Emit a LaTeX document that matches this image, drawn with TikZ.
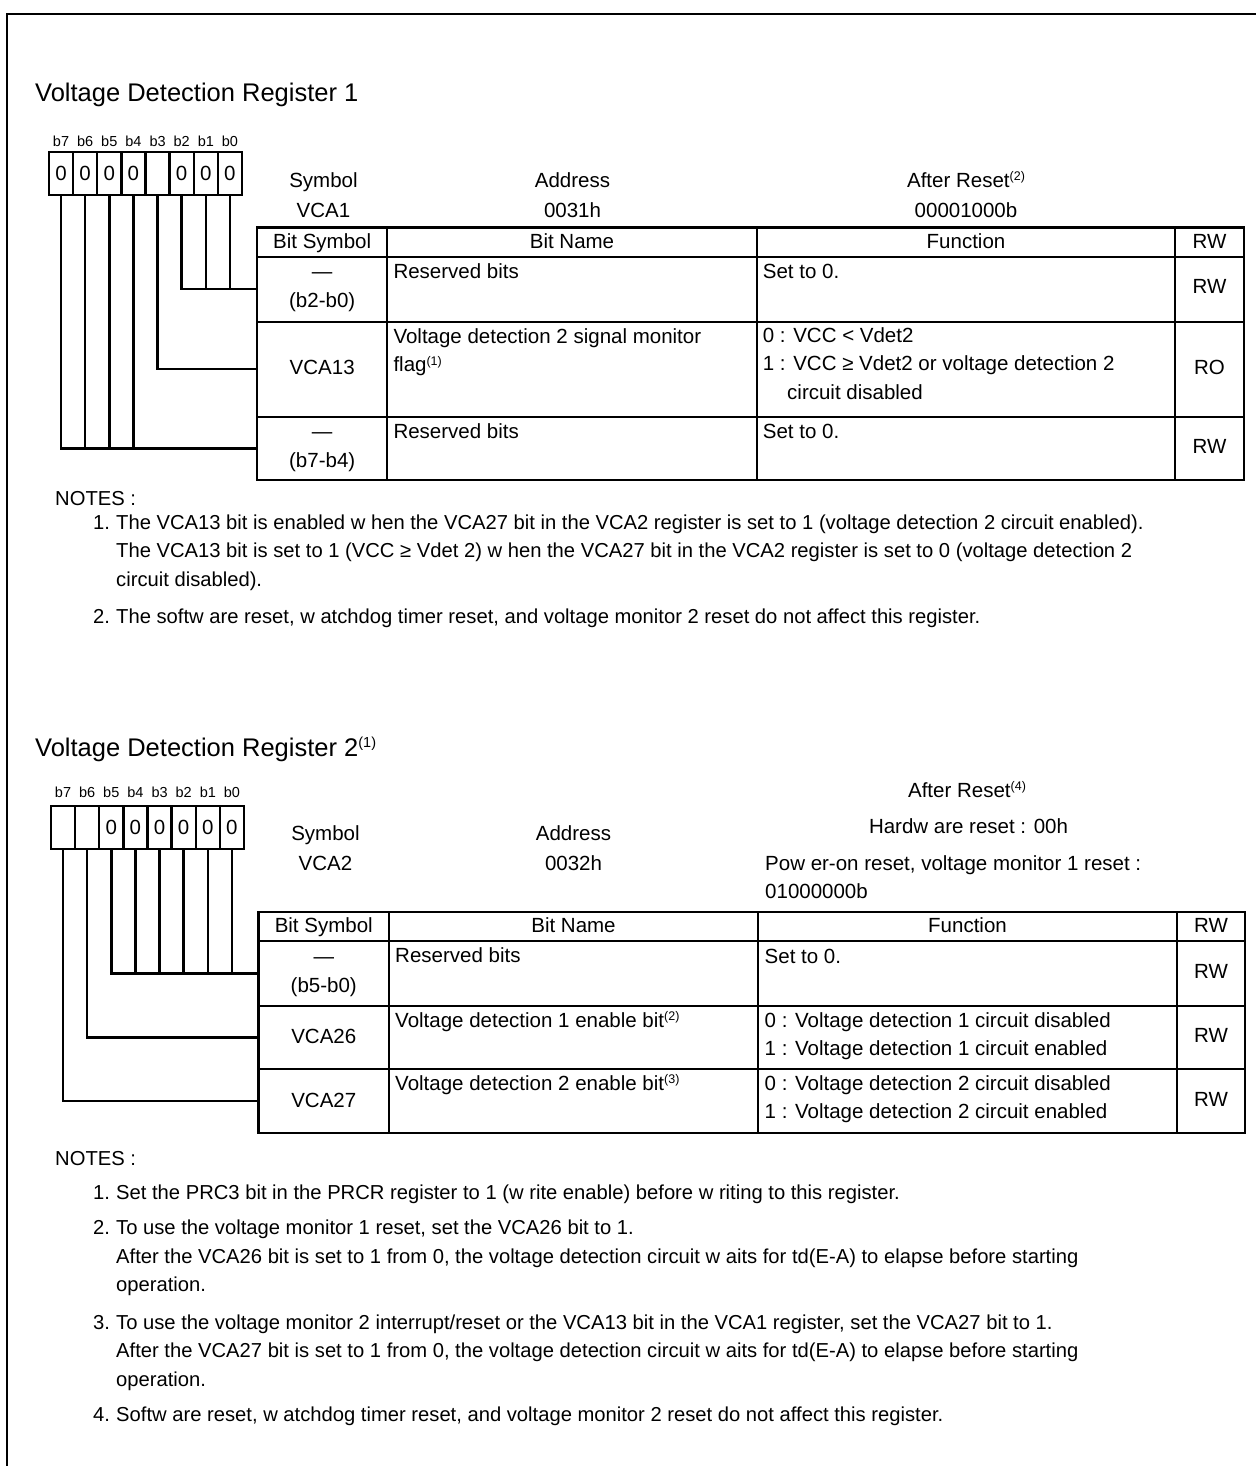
\documentclass[tikz,border=0pt]{standalone}
\usepackage{fontspec}
\setmainfont{Liberation Sans}
\newcommand\ftxt{\fontsize{20.5pt}{28.5pt}\selectfont}
\newcommand\fnote{\fontsize{20.2pt}{28.5pt}\selectfont}
\newcommand\fttl{\fontsize{25.5pt}{28pt}\selectfont}
\newcommand\fbit{\fontsize{14.5pt}{16pt}\selectfont}
\newcommand\fsup{\fontsize{12.5pt}{13pt}\selectfont}
\newcommand\supr[1]{\raisebox{6.5pt}{\fsup(#1)}}
\newcommand\suprt[1]{\raisebox{8.5pt}{\fontsize{14.5pt}{14.5pt}\selectfont(#1)}}
\newcommand\cellbox[5]{%
  \pgfmathsetmacro\mycw{#4-#2}\pgfmathsetmacro\mych{#5-#3}%
  \node[cellst, minimum width=\mycw pt, minimum height=\mych pt, anchor=north west] (#1) at (#2,#3) {};}
\tikzset{
  cellst/.style={draw, rectangle, line width=2.4pt, inner sep=0pt, outer sep=0pt},
  bitcell/.style={draw, rectangle, line width=2.4pt, inner sep=0pt, outer sep=0pt,
    minimum width=24.125pt, minimum height=43pt, font=\ftxt},
  conn/.style={line width=2.4pt},
  txt/.style={inner sep=0pt, font=\ftxt, anchor=base},
  ltxt/.style={inner sep=0pt, font=\ftxt, anchor=base west},
  ntxt/.style={inner sep=0pt, font=\fnote, anchor=base west},
  ttl/.style={inner sep=0pt, font=\fttl, anchor=base west},
  lbl/.style={inner sep=0pt, font=\fbit, anchor=base},
}
\begin{document}
\begin{tikzpicture}[x=1pt,y=-1pt]
\useasboundingbox (0,0) rectangle (1255,1466);
% frame
\draw[line width=2.8pt] (1260,14) -- (7,14) -- (7,1470);

% ================= Register 1 =================
\node[ttl] (r1title) at (35,101.5) {Voltage Detection Register 1};
\foreach \i in {0,...,7} {
  \node[lbl] (r1l\i) at ({49+24.125*(7-\i+0.5)},147) {b\i};
}
\foreach \i/\v in {7/0,6/0,5/0,4/0,3/{},2/0,1/0,0/0} {
  \node[bitcell] (r1b\i) at ({49+24.125*(7-\i+0.5)},173.5) {\v};
}
\node[txt] (r1sym) at (323.5,187) {Symbol};
\node[txt] (r1symv) at (323.5,217.5) {VCA1};
\node[txt] (r1adr) at (572.5,187) {Address};
\node[txt] (r1adrv) at (572.5,217.5) {0031h};
\node[txt] (r1rst) at (966,187) {After Reset\supr{2}};
\node[txt] (r1rstv) at (966,217.5) {00001000b};

% table 1 cells
\cellbox{t1h1}{257}{227.3}{387.2}{256.7}
\cellbox{t1h2}{387.2}{227.3}{756.7}{256.7}
\cellbox{t1h3}{756.7}{227.3}{1175}{256.7}
\cellbox{t1h4}{1175}{227.3}{1244}{256.7}
\cellbox{t1a1}{257}{256.7}{387.2}{321.7}
\cellbox{t1a2}{387.2}{256.7}{756.7}{321.7}
\cellbox{t1a3}{756.7}{256.7}{1175}{321.7}
\cellbox{t1a4}{1175}{256.7}{1244}{321.7}
\cellbox{t1b1}{257}{321.7}{387.2}{416.7}
\cellbox{t1b2}{387.2}{321.7}{756.7}{416.7}
\cellbox{t1b3}{756.7}{321.7}{1175}{416.7}
\cellbox{t1b4}{1175}{321.7}{1244}{416.7}
\cellbox{t1c1}{257}{416.7}{387.2}{480}
\cellbox{t1c2}{387.2}{416.7}{756.7}{480}
\cellbox{t1c3}{756.7}{416.7}{1175}{480}
\cellbox{t1c4}{1175}{416.7}{1244}{480}

\node[txt] (t1h1t) at (322.2,248) {Bit Symbol};
\node[txt] (t1h2t) at (572,248) {Bit Name};
\node[txt] (t1h3t) at (966,248) {Function};
\node[txt] (t1h4t) at (1209.5,248) {RW};

\node[txt] (t1a1t) at (322.2,278.5) {—};
\node[txt] (t1a1u) at (322.2,307) {(b2-b0)};
\node[ltxt] (t1a2t) at (393.3,278) {Reserved bits};
\node[ltxt] (t1a3t) at (762.7,278) {Set to 0.};
\node[txt] (t1a4t) at (1209.5,293) {RW};

\node[txt] (t1b1t) at (322.2,374) {VCA13};
\node[ltxt] (t1b2t) at (393.3,343) {Voltage detection 2 signal monitor};
\node[ltxt] (t1b2u) at (393.3,371.5) {flag\supr{1}};
\node[ltxt] (t1b3t) at (762.7,342) {0 : VCC < Vdet2};
\node[ltxt] (t1b3u) at (762.7,370.5) {1 : VCC ≥ Vdet2 or voltage detection 2};
\node[ltxt] (t1b3v) at (787,399) {circuit disabled};
\node[txt] (t1b4t) at (1209.5,374) {RO};

\node[txt] (t1c1t) at (322.2,438.5) {—};
\node[txt] (t1c1u) at (322.2,467) {(b7-b4)};
\node[ltxt] (t1c2t) at (393.3,438) {Reserved bits};
\node[ltxt] (t1c3t) at (762.7,438) {Set to 0.};
\node[txt] (t1c4t) at (1209.5,453) {RW};

% connectors register 1
\draw[conn] (r1b2.south) |- (t1a1.west);
\draw[conn] (r1b1.south) -- (r1b1.south |- t1a1.west);
\draw[conn] (r1b0.south) -- (r1b0.south |- t1a1.west);
\draw[conn] (r1b3.south) |- (t1b1.west);
\draw[conn] (r1b7.south) |- (t1c1.west);
\draw[conn] (r1b6.south) -- (r1b6.south |- t1c1.west);
\draw[conn] (r1b5.south) -- (r1b5.south |- t1c1.west);
\draw[conn] (r1b4.south) -- (r1b4.south |- t1c1.west);

% notes 1
\node[ntxt] (n1h) at (55,505) {NOTES :};
\node[ntxt] (n1a) at (93,529) {1.};
\node[ntxt] (n1at) at (116,529) {The VCA13 bit is enabled w hen the VCA27 bit in the VCA2 register is set to 1 (voltage detection 2 circuit enabled).};
\node[ntxt] (n1au) at (116,557.5) {The VCA13 bit is set to 1 (VCC ≥ Vdet 2) w hen the VCA27 bit in the VCA2 register is set to 0 (voltage detection 2};
\node[ntxt] (n1av) at (116,586) {circuit disabled).};
\node[ntxt] (n1b) at (93,623) {2.};
\node[ntxt] (n1bt) at (116,623) {The softw are reset, w atchdog timer reset, and voltage monitor 2 reset do not affect this register.};

% ================= Register 2 =================
\node[ttl] (r2title) at (35,756) {Voltage Detection Register 2\suprt{1}};
\foreach \i in {0,...,7} {
  \node[lbl] (r2l\i) at ({51+24.125*(7-\i+0.5)},797) {b\i};
}
\foreach \i/\v in {7/{},6/{},5/0,4/0,3/0,2/0,1/0,0/0} {
  \node[bitcell] (r2b\i) at ({51+24.125*(7-\i+0.5)},827.5) {\v};
}
\node[txt] (r2sym) at (325.5,840) {Symbol};
\node[txt] (r2symv) at (325.5,870) {VCA2};
\node[txt] (r2adr) at (573.5,840) {Address};
\node[txt] (r2adrv) at (573.5,870) {0032h};
\node[txt] (r2rst) at (967,797) {After Reset\supr{4}};
\node[txt] (r2rsth) at (968.5,833) {Hardw are reset : 00h};
\node[ltxt] (r2rstp) at (765,870) {Pow er-on reset, voltage monitor 1 reset :};
\node[ltxt] (r2rstv) at (765,898) {01000000b};

% table 2 cells
\cellbox{t2h1}{258.5}{912}{389}{941}
\cellbox{t2h2}{389}{912}{758}{941}
\cellbox{t2h3}{758}{912}{1177}{941}
\cellbox{t2h4}{1177}{912}{1245}{941}
\cellbox{t2a1}{258.5}{941}{389}{1006}
\cellbox{t2a2}{389}{941}{758}{1006}
\cellbox{t2a3}{758}{941}{1177}{1006}
\cellbox{t2a4}{1177}{941}{1245}{1006}
\cellbox{t2b1}{258.5}{1006}{389}{1069}
\cellbox{t2b2}{389}{1006}{758}{1069}
\cellbox{t2b3}{758}{1006}{1177}{1069}
\cellbox{t2b4}{1177}{1006}{1245}{1069}
\cellbox{t2c1}{258.5}{1069}{389}{1133}
\cellbox{t2c2}{389}{1069}{758}{1133}
\cellbox{t2c3}{758}{1069}{1177}{1133}
\cellbox{t2c4}{1177}{1069}{1245}{1133}

\node[txt] (t2h1t) at (323.75,932) {Bit Symbol};
\node[txt] (t2h2t) at (573.5,932) {Bit Name};
\node[txt] (t2h3t) at (967.5,932) {Function};
\node[txt] (t2h4t) at (1211,932) {RW};

\node[txt] (t2a1t) at (323.75,963.5) {—};
\node[txt] (t2a1u) at (323.75,992) {(b5-b0)};
\node[ltxt] (t2a2t) at (395,962.5) {Reserved bits};
\node[ltxt] (t2a3t) at (764.5,963) {Set to 0.};
\node[txt] (t2a4t) at (1211,978) {RW};

\node[txt] (t2b1t) at (323.75,1043) {VCA26};
\node[ltxt] (t2b2t) at (395,1027) {Voltage detection 1 enable bit\supr{2}};
\node[ltxt] (t2b3t) at (764.5,1027) {0 : Voltage detection 1 circuit disabled};
\node[ltxt] (t2b3u) at (764.5,1055) {1 : Voltage detection 1 circuit enabled};
\node[txt] (t2b4t) at (1211,1042) {RW};

\node[txt] (t2c1t) at (323.75,1107) {VCA27};
\node[ltxt] (t2c2t) at (395,1090) {Voltage detection 2 enable bit\supr{3}};
\node[ltxt] (t2c3t) at (764.5,1090) {0 : Voltage detection 2 circuit disabled};
\node[ltxt] (t2c3u) at (764.5,1118) {1 : Voltage detection 2 circuit enabled};
\node[txt] (t2c4t) at (1211,1106) {RW};

% connectors register 2
\draw[conn] (r2b5.south) |- (t2a1.west);
\draw[conn] (r2b4.south) -- (r2b4.south |- t2a1.west);
\draw[conn] (r2b3.south) -- (r2b3.south |- t2a1.west);
\draw[conn] (r2b2.south) -- (r2b2.south |- t2a1.west);
\draw[conn] (r2b1.south) -- (r2b1.south |- t2a1.west);
\draw[conn] (r2b0.south) -- (r2b0.south |- t2a1.west);
\draw[conn] (r2b6.south) |- (t2b1.west);
\draw[conn] (r2b7.south) |- (t2c1.west);

% notes 2
\node[ntxt] (n2h) at (55,1165) {NOTES :};
\node[ntxt] (n2a) at (93,1199) {1.};
\node[ntxt] (n2at) at (116,1199) {Set the PRC3 bit in the PRCR register to 1 (w rite enable) before w riting to this register.};
\node[ntxt] (n2b) at (93,1234) {2.};
\node[ntxt] (n2bt) at (116,1234) {To use the voltage monitor 1 reset, set the VCA26 bit to 1.};
\node[ntxt] (n2bu) at (116,1263) {After the VCA26 bit is set to 1 from 0, the voltage detection circuit w aits for td(E-A) to elapse before starting};
\node[ntxt] (n2bv) at (116,1291) {operation.};
\node[ntxt] (n2c) at (93,1329) {3.};
\node[ntxt] (n2ct) at (116,1329) {To use the voltage monitor 2 interrupt/reset or the VCA13 bit in the VCA1 register, set the VCA27 bit to 1.};
\node[ntxt] (n2cu) at (116,1357) {After the VCA27 bit is set to 1 from 0, the voltage detection circuit w aits for td(E-A) to elapse before starting};
\node[ntxt] (n2cv) at (116,1386) {operation.};
\node[ntxt] (n2d) at (93,1421) {4.};
\node[ntxt] (n2dt) at (116,1421) {Softw are reset, w atchdog timer reset, and voltage monitor 2 reset do not affect this register.};
\end{tikzpicture}
\end{document}
